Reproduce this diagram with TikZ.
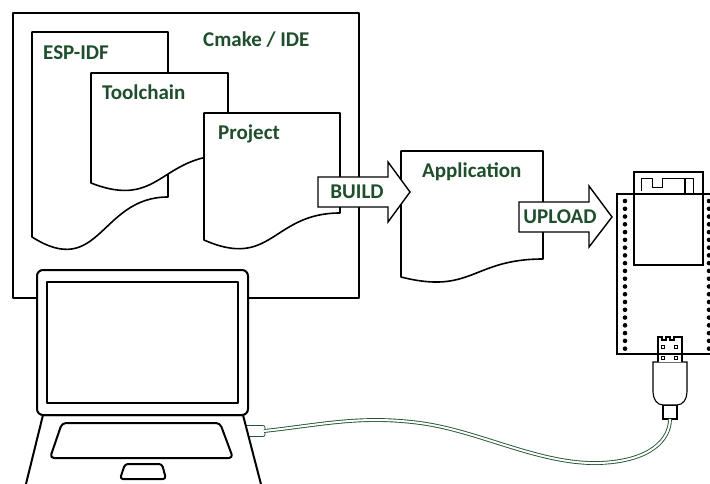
\documentclass[tikz,border=0pt]{standalone}
\usepackage{fontspec}
\setmainfont{Carlito}
\definecolor{labelgreen}{RGB}{31,78,45}
\definecolor{cablegreen}{RGB}{35,85,50}
\begin{document}
\begin{tikzpicture}[x=1pt,y=-1pt,
  frame/.style={draw=black,line width=1.9pt,line join=round},
  docshape/.style={draw=black,line width=1.6pt,fill=white,line join=round},
  flowarrow/.style={draw=black,line width=1.4pt,fill=white,line join=miter},
  lbl/.style={font=\bfseries\fontsize{21}{25}\selectfont,text=labelgreen,inner sep=0pt,anchor=base west},
  boardline/.style={draw=black,line width=1.2pt,fill=white},
  laptopline/.style={draw=black,line width=2pt,line join=round,fill=white},
  cable/.style={draw=cablegreen,line width=0.9pt,double=white,double distance=2pt},
]
\useasboundingbox (0,0) rectangle (710,484);

% IDE frame
\draw[frame] (13,13) rectangle (359,298);
\node[lbl] (ide) at (203,46.5) {Cmake / IDE};

% stacked documents
\draw[docshape] (32,32) -- (168,32) -- (168,197)
  .. controls (100,197) and (100,280) .. (32,237) -- cycle;
\node[lbl] (espidf) at (43,60) {ESP-IDF};

\draw[docshape] (91,73) -- (228,73) -- (228,155)
  .. controls (160,155) and (160,210) .. (91,183) -- cycle;
\node[lbl] (toolchain) at (102,100) {Toolchain};

\draw[docshape] (204,113) -- (340,113) -- (340,213)
  .. controls (272,213) and (272,270) .. (204,240) -- cycle;
\node[lbl] (project) at (218,140) {Project};

% application document
\draw[docshape] (401,151) -- (543,151) -- (543,259)
  .. controls (472,259) and (472,295) .. (401,277) -- cycle;
\node[lbl] (application) at (422,177.3) {Application};

% block arrows
\draw[flowarrow] (318,177) -- (388,177) -- (388,162) -- (410,192)
  -- (388,222) -- (388,207) -- (318,207) -- cycle;
\node[lbl,anchor=base] (build) at (357,198.5) {BUILD};

\draw[flowarrow] (519,202) -- (589,202) -- (589,186) -- (612,217)
  -- (589,247) -- (589,232) -- (519,232) -- cycle;
\node[lbl,anchor=base] (upload) at (560,223.5) {UPLOAD};

% dev board
\draw[boardline] (617,194) rectangle (720,354);
\foreach \i in {0,...,19}{
  \fill (625,{201+\i*7.77}) circle (2.3pt);
  \fill (709,{201+\i*7.77}) circle (2.3pt);
}
\draw[boardline] (634,172) rectangle (703,194);
\draw[boardline] (634,194) rectangle (703,265);
\draw[black,line width=1.1pt] (641.7,191.5) -- (641.7,178.3) -- (652.7,178.3)
  -- (652.7,187.7) -- (662.7,187.7) -- (662.7,178.3) -- (693.3,178.3) -- (693.3,194);
\draw[black,line width=1.1pt] (685,178.3) -- (685,194);

% USB plug
\draw[boardline,line width=1.1pt] (663,405) rectangle (677,419);
\draw[boardline,line width=1.1pt] (653,362) -- (687,362) -- (687,392)
  to[out=-90,in=0] (677,405) -- (663,405) to[out=180,in=-90] (653,392) -- cycle;
\draw[boardline,line width=1.1pt] (658,362) -- (658,337) -- (662,337) -- (662,340)
  -- (666,340) -- (666,337) -- (670,337) -- (670,340) -- (674,340) -- (674,337)
  -- (682,337) -- (682,362);
\foreach \x in {663,676}{
  \draw[black,line width=0.9pt] (\x-1.3,345.5) rectangle (\x+1.3,348.5);
  \draw[black,line width=0.9pt] (\x-1.3,356.5) rectangle (\x+1.3,359.5);
}
\draw[black,line width=1.2pt] (617,354) -- (710,354);

% USB cable
\coordinate (usbend) at (670,419);
\coordinate (lapport) at (264,431);
\draw[draw=cablegreen,line width=0.8pt,fill=white,rounded corners=2pt]
  (240,425.5) rectangle (265,436.5);
\draw[cable] (lapport) .. controls (320,425) and (360,415) .. (420,423)
  .. controls (480,431) and (540,465) .. (600,463)
  .. controls (650,461) and (670,440) .. (usbend);

% laptop
\draw[laptopline] (43,415) -- (24,492) -- (263,492) -- (243,415) -- cycle;
\draw[laptopline,rounded corners=6pt] (37,270) rectangle (248,415);
\draw[laptopline] (47,282) rectangle (238,403);
\draw[laptopline,rounded corners=4pt] (62,423) -- (220,423) -- (233,458) -- (50,458) -- cycle;
\draw[laptopline,rounded corners=3pt] (125,464) -- (162,464) -- (166,479) -- (120,479) -- cycle;
\end{tikzpicture}
\end{document}
